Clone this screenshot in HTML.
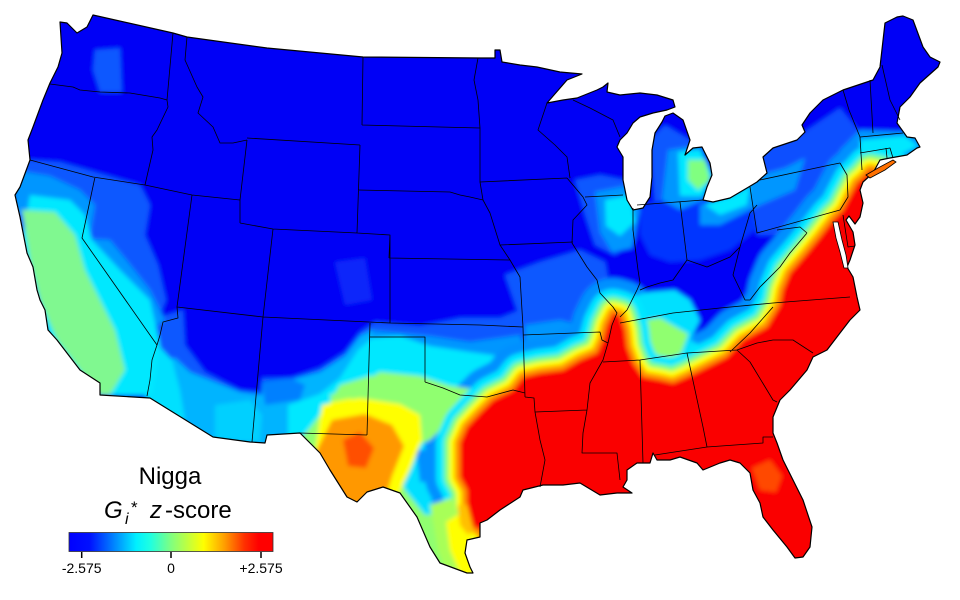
<!DOCTYPE html>
<html><head><meta charset="utf-8"><style>
html,body{margin:0;padding:0;background:#fff;}
svg{display:block;}
text{font-family:"Liberation Sans",Arial,sans-serif;fill:#000;}
</style></head><body>
<svg width="960" height="600" viewBox="0 0 960 600" xmlns="http://www.w3.org/2000/svg">
<defs>
<clipPath id="us"><path id="usp" d="M93,15 L173,33 L187,37 L267,48 L363,57 L480,58 L495,58 L495,50 L500,50 L502,62 L520,65 L537,67 L560,72 L582,74 L567,80 L547,103 L563,100 L577,98 L597,90 L603,87 L608,83 L607,92 L620,95 L640,93 L657,95 L673,100 L675,107 L667,110 L653,113 L640,117 L633,123 L627,133 L620,140 L617,147 L623,157 L623,180 L627,200 L633,210 L643,208 L650,197 L652,177 L652,150 L655,133 L662,122 L665,116 L673,113 L683,120 L690,140 L685,155 L693,148 L702,147 L710,163 L712,175 L707,187 L703,200 L713,202 L730,198 L747,188 L757,182 L767,173 L763,157 L773,148 L797,140 L805,132 L802,125 L810,113 L823,100 L843,90 L873,80 L880,67 L885,23 L897,17 L903,16 L913,20 L923,47 L930,57 L940,62 L938,67 L920,83 L910,97 L900,107 L897,123 L907,137 L915,138 L920,147 L917,148 L907,155 L890,158 L880,160 L873,173 L863,182 L860,190 L863,203 L860,217 L855,224 L849,216 L846,220 L853,232 L855,245 L850,260 L847,267 L853,277 L857,297 L860,310 L850,320 L840,333 L827,350 L813,357 L807,370 L790,390 L780,400 L773,417 L773,433 L777,443 L783,460 L793,480 L803,500 L812,527 L810,547 L803,557 L795,558 L787,547 L773,530 L763,517 L760,503 L753,490 L750,473 L740,463 L730,460 L720,463 L703,470 L697,463 L680,457 L670,460 L657,460 L653,453 L650,463 L637,463 L627,470 L627,480 L623,487 L632,493 L617,493 L600,495 L580,483 L563,485 L543,485 L523,490 L520,497 L500,510 L487,520 L480,523 L480,537 L467,540 L465,553 L470,567 L473,573 L467,573 L440,563 L430,547 L417,517 L400,493 L383,487 L367,492 L357,502 L347,497 L330,470 L320,453 L300,433 L267,435 L265,443 L250,442 L213,437 L150,398 L100,395 L100,383 L80,370 L57,340 L48,330 L45,310 L40,300 L37,290 L33,267 L27,253 L20,217 L15,195 L20,187 L30,160 L28,140 L33,127 L43,100 L50,83 L58,67 L62,53 L60,22 L67,23 L77,33 L87,27 Z"/></clipPath>
<filter id="bl" x="-5%" y="-5%" width="110%" height="110%"><feGaussianBlur stdDeviation="2"/></filter>
<linearGradient id="jet" x1="0" y1="0" x2="1" y2="0">
<stop offset="0" stop-color="#0000ff"/><stop offset="0.1" stop-color="#0010ff"/><stop offset="0.2" stop-color="#0070ff"/><stop offset="0.33" stop-color="#00f0ff"/><stop offset="0.4" stop-color="#20ffe0"/><stop offset="0.5" stop-color="#80ff80"/><stop offset="0.66" stop-color="#ffff00"/><stop offset="0.76" stop-color="#ffa000"/><stop offset="0.86" stop-color="#ff3000"/><stop offset="0.93" stop-color="#ff0000"/><stop offset="1" stop-color="#ff0000"/>
</linearGradient>
<path id="red" d="M880,172 L870,170 L863,178 L857,183 L848,200 L843,210 L833,220 L820,237 L807,253 L790,273 L783,290 L780,305 L767,327 L743,340 L727,357 L707,367 L687,377 L673,383 L660,380 L643,377 L633,363 L627,347 L625,330 L620,315 L613,313 L607,325 L603,340 L597,353 L580,360 L563,370 L540,373 L523,377 L513,390 L493,400 L480,413 L467,427 L460,443 L460,477 L467,490 L467,503 L473,527 L480,530 L520,600 L960,600 L960,200 Z"/>
</defs>

<g clip-path="url(#us)">
<g filter="url(#bl)">
<rect x="0" y="0" width="960" height="600" fill="#0404f6"/>
<!-- medium blue -->
<g fill="#0858ff">
<polygon points="95,50 120,48 122,92 100,92 93,70"/>
<polygon points="0,158 60,162 95,172 140,185 150,205 145,235 158,265 166,300 150,340 120,330 60,300 0,280"/>
<polygon points="150,320 183,310 185,345 205,372 240,390 262,392 262,378 290,378 320,368 345,352 360,332 375,322 420,326 460,318 500,318 525,308 560,298 590,288 605,300 610,340 520,400 300,460 150,430"/>
<polygon points="505,275 540,262 580,250 605,262 612,300 570,320 520,318"/>
<polygon points="575,180 600,175 625,180 640,200 635,240 615,255 595,245 585,215"/>
<polygon points="650,140 665,125 690,140 712,175 703,200 655,205"/>
</g>
<polygon fill="#0a28fa" points="335,262 365,258 372,300 345,305"/>
<polygon fill="#0634ff" points="640,205 680,195 705,200 740,190 755,180 755,230 730,250 700,260 670,262 650,255 640,235"/>
<polygon fill="#0a50ff" points="760,150 800,135 840,108 862,135 850,200 820,228 790,235 757,235 750,190 745,175"/>
<!-- lighter blue -->
<g fill="#0096ff">
<polygon points="15,170 50,176 80,190 95,205 90,235 40,218 15,212"/>
<polygon points="82,238 110,240 128,262 150,290 165,320 150,330 140,322 100,282"/>
<polygon points="595,192 625,186 640,210 632,248 612,252 600,232"/>
<polygon points="668,150 700,145 712,175 703,200 680,210 662,200"/>
<polygon points="700,205 740,190 760,175 785,168 805,158 795,190 760,205 720,225 700,225"/>
<polygon points="840,150 860,130 915,132 922,150 890,165 850,190"/>
<polygon points="525,325 560,320 600,330 605,345 560,360 525,360"/>
<polygon points="370,330 430,336 470,342 520,335 532,380 440,420 370,420"/>
</g>
<!-- SW: AZ / NM -->
<polygon fill="#00b4ff" points="148,365 175,358 190,372 210,380 240,392 262,395 262,382 290,380 320,372 345,356 360,336 372,330 372,445 148,445"/>
<polygon fill="#0080ff" points="262,382 290,378 305,385 300,400 265,405"/>
<polygon fill="#00e0ff" points="140,370 158,345 172,360 180,390 185,420 150,415"/>
<polygon fill="#00e8ff" points="288,405 320,394 340,378 358,350 372,338 372,445 288,445"/>
<polygon fill="#00d0ff" points="215,405 250,400 262,415 260,442 215,440"/>
<!-- west cyan -->
<g fill="#00e8ff">
<polygon points="30,195 70,200 85,215 92,240 120,270 150,300 160,345 152,395 100,395 50,340 22,240"/>
<polygon points="372,338 400,336 430,346 470,352 500,356 515,372 500,392 440,402 400,422 372,430"/>
</g>
<!-- Texas base -->
<polygon fill="#90ff70" points="300,440 330,402 340,385 370,376 425,378 460,392 480,410 470,440 470,585 400,570 380,510 340,520 300,455"/>
<polygon fill="#00e0ff" points="392,438 425,420 452,430 455,480 450,512 425,515 405,490 392,462"/>
<polygon fill="#0090ff" points="416,450 442,450 444,482 420,482"/>
<!-- SE outer band -->
<use href="#red" fill="none" stroke="#0090ff" stroke-width="70" stroke-linejoin="round"/>
<!-- central blobs -->
<polygon fill="#00e0ff" points="625,298 650,292 675,290 690,300 700,320 690,340 700,345 730,340 765,320 785,300 785,325 740,352 700,362 640,362 625,330"/>
<polygon fill="#90ff70" points="635,322 660,318 688,334 680,356 645,360 630,340"/>
<polygon fill="#00e8ff" points="605,200 630,195 635,222 620,236 606,226"/>
<polygon fill="#00e8ff" points="678,152 700,150 712,175 702,196 680,196"/>
<polygon fill="#80ff80" points="688,160 705,160 710,180 698,190 688,180"/>
<polygon fill="#00e8ff" points="860,140 905,136 918,146 900,155 860,158"/>
<polygon fill="#00e8ff" points="705,205 735,195 750,186 747,205 720,215"/>
<polygon fill="#80f890" points="22,210 55,212 75,235 85,270 100,300 115,330 125,370 110,395 100,395 80,370 57,340 40,300 30,260"/>
<polygon fill="#90ff70" points="330,395 360,385 380,372 420,376 450,386 480,390 500,382 510,396 480,410 450,420 430,440 400,452 340,440"/>
<polygon fill="#e0ff20" points="330,402 350,398 365,405 368,430 340,435"/>
<polygon fill="#ffff00" points="322,405 360,398 400,404 420,415 422,440 410,470 398,495 372,505 340,490 315,450"/>
<polygon fill="#ff9800" points="318,448 332,420 365,414 392,425 404,446 392,476 382,510 355,515 332,495 312,462"/>
<polygon fill="#ff5000" points="343,440 360,432 374,448 366,468 348,466"/>
<!-- SE bands -->
<use href="#red" fill="none" stroke="#00e8ff" stroke-width="48" stroke-linejoin="round"/>
<use href="#red" fill="none" stroke="#80ff80" stroke-width="32" stroke-linejoin="round"/>
<use href="#red" fill="none" stroke="#ffff00" stroke-width="22" stroke-linejoin="round"/>
<use href="#red" fill="none" stroke="#ff9800" stroke-width="11" stroke-linejoin="round"/>
<!-- south Texas coast -->
<polygon fill="#a8ff58" points="430,505 452,498 462,520 470,540 478,585 452,585 438,550"/>
<polygon fill="#ffff00" points="446,522 462,512 472,540 474,578 462,578 450,550"/>
<polygon fill="#ffc000" points="458,505 468,505 474,530 468,535 460,525"/>
<use href="#red" fill="#fa0000"/>
<polygon fill="#ff4a00" points="752,468 770,460 782,476 776,492 760,490"/>
</g>
</g>

<!-- state borders -->
<path fill="none" stroke="#000" stroke-width="0.8" stroke-linejoin="round" d="
M50,84 L73,87 L80,90 L100,92 L130,93 L160,98 L167,100
M173,33 L167,100
M167,100 L168,107 L157,130 L152,137 L153,150 L145,185
M30,160 L93,177 L145,185
M95,177 L82,238 L157,345 L152,360 L150,380 L147,396
M177,307 L178,318 L163,322 L160,335 L157,345
M145,185 L192,195 L240,200
M192,195 L177,307
M187,37 L185,60 L197,87 L203,97 L198,113 L213,127 L220,143 L233,143 L247,140
M247,140 L240,200 L240,223
M240,223 L273,229
M273,229 L263,317
M177,307 L263,317
M247,138 L360,145
M273,229 L357,233
M360,145 L357,233
M363,57 L362,125
M362,125 L480,128
M358,190 L450,192 L460,195 L470,197 L483,200
M357,233 L390,235 L389,258
M389,258 L510,260
M390,235 L390,323
M263,317 L390,323 L480,325 L523,327
M510,260 L520,277 L523,327
M370,323 L367,435
M370,337 L425,337 L425,382
M300,433 L367,435
M263,317 L252,442
M425,382 L443,388 L460,395 L487,397 L513,390 L525,393
M523,327 L525,397
M525,397 L534,398 L535,412 L540,440 L545,460 L540,487
M535,412 L587,410
M523,335 L600,332 L602,340 L608,343
M608,343 L603,360 L590,383 L587,410 L583,433 L582,453 L617,453 L620,480
M500,245 L573,242
M483,200 L490,213 L500,245 L510,260
M478,58 L474,80 L478,100 L480,128 L480,182 L483,200
M480,182 L567,178
M547,103 L538,130 L555,145 L567,157 L570,178
M567,178 L583,197 L587,205 L573,220 L572,243 L587,267 L597,280 L600,293 L613,307 L617,313 L612,325 L608,343
M585,197 L623,195
M573,100 L590,108 L613,120 L620,137
M633,208 L633,230 L638,270 L640,283 L637,290 L627,310 L620,317
M640,290 L647,287 L660,283 L673,280 L687,260 L707,267 L730,257 L740,247 L750,213 L757,205
M637,205 L703,200
M680,202 L687,260
M750,187 L757,233 L840,210
M760,180 L830,165 L840,163
M840,163 L847,175 L848,197 L840,210
M777,230 L800,227 L807,233
M807,233 L790,253 L780,267 L760,287 L750,300
M740,247 L733,275 L745,300 L750,300
M620,323 L673,313 L720,308 L773,303
M773,303 L850,297
M603,362 L640,360 L687,353 L737,350
M730,352 L750,333 L773,307
M640,360 L643,463
M687,353 L703,427 L707,447
M655,455 L707,447 L763,443 L763,437 L773,437
M737,350 L750,362 L773,400 L777,402
M737,350 L757,343 L773,340 L793,340 L813,353
M843,90 L849,110 L860,137
M870,80 L873,133
M882,65 L890,100 L900,120
M860,137 L903,133
M860,153 L890,148 L893,158
M886,148 L887,158
M860,137 L862,170
M843,215 L848,247 L855,246
"/>
<!-- coastline / outline -->
<use href="#usp" fill="none" stroke="#000" stroke-width="1.2" stroke-linejoin="round"/>
<!-- Chesapeake -->
<polygon points="833,222 838,222 842,240 846,255 848,268 844,268 840,252 836,238" fill="#fff" stroke="#000" stroke-width="0.8"/>
<!-- Long Island -->
<polygon points="866,175 878,168 893,160 896,162 885,170 870,178" fill="#ff7000" stroke="#000" stroke-width="0.8"/>

<!-- legend -->
<text x="170" y="484" font-size="24" text-anchor="middle">Nigga</text>
<text y="518" font-size="24"><tspan x="104" font-style="italic">G</tspan><tspan x="125" y="524" font-size="16" font-style="italic">i</tspan><tspan x="131" y="513" font-size="17">*</tspan><tspan x="150" y="518" font-style="italic">z</tspan><tspan x="165" y="518">-score</tspan></text>
<rect x="69" y="532.5" width="204" height="19" fill="url(#jet)" stroke="#333" stroke-width="0.8"/>
<g stroke="#000" stroke-width="1.5">
<line x1="81.7" y1="552" x2="81.7" y2="558"/>
<line x1="171" y1="552" x2="171" y2="558"/>
<line x1="261" y1="552" x2="261" y2="558"/>
</g>
<text x="81.7" y="573" font-size="14" text-anchor="middle">-2.575</text>
<text x="171" y="573" font-size="14" text-anchor="middle">0</text>
<text x="261" y="573" font-size="14" text-anchor="middle">+2.575</text>
</svg>
</body></html>
